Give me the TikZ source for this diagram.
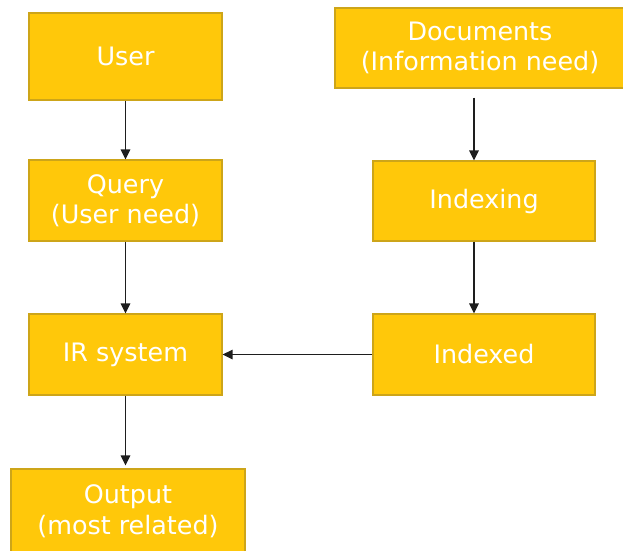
\documentclass[tikz,border=0pt]{standalone}
\usepackage{fontspec}
\setmainfont{DejaVu Sans}
\usetikzlibrary{arrows.meta}
\definecolor{boxfill}{RGB}{255,200,10}
\definecolor{boxedge}{RGB}{205,165,25}
\definecolor{arrowcol}{RGB}{30,30,30}
\tikzset{
  stage/.style={draw=boxedge, fill=boxfill, line width=1.3pt, inner sep=0pt,
    align=center, text=white,
    font=\fontsize{25.4}{30.5}\selectfont},
  flow/.style={draw=arrowcol, line width=1.5pt,
    -{Triangle[length=10pt,width=9.5pt]}},
}
\begin{document}
\begin{tikzpicture}[x=1pt,y=-1pt]
  \useasboundingbox (0,0) rectangle (623,550);
  \begin{scope}
    \clip (0,0) rectangle (623,550);
    % left column
    \node[stage, minimum width=193pt, minimum height=87pt] (user)  at (125.5,56.5) {User};
    \node[stage, minimum width=193pt, minimum height=81pt] (query) at (125.5,200.5) {Query\\(User need)};
    \node[stage, minimum width=193pt, minimum height=81pt] (irs)   at (125.5,354.5) {IR system};
    \node[stage, minimum width=234pt, minimum height=84pt] (out)   at (128,511) {Output\\(most related)};
    % right column
    \node[stage, minimum width=290pt, minimum height=80pt] (docs)  at (480,48) {Documents\\(Information need)};
    \node[stage, minimum width=222pt, minimum height=80pt] (idx)   at (484,201) {Indexing};
    \node[stage, minimum width=222pt, minimum height=81pt] (idxd)  at (484,354.5) {Indexed};
  \end{scope}
  % connectors
  \draw[flow] (user.south) -- (query.north);
  \draw[flow] (query.south) -- (irs.north);
  \draw[flow, shorten >=3pt] (irs.south) -- (out.north -| irs.south);
  \draw[flow, shorten <=9pt] ([xshift=-6pt]docs.south) -- ([xshift=-6pt]docs.south |- idx.north);
  \draw[flow] ([xshift=-10pt]idx.south) -- ([xshift=-10pt]idxd.north);
  \draw[flow] (idxd.west) -- (irs.east);
\end{tikzpicture}
\end{document}
